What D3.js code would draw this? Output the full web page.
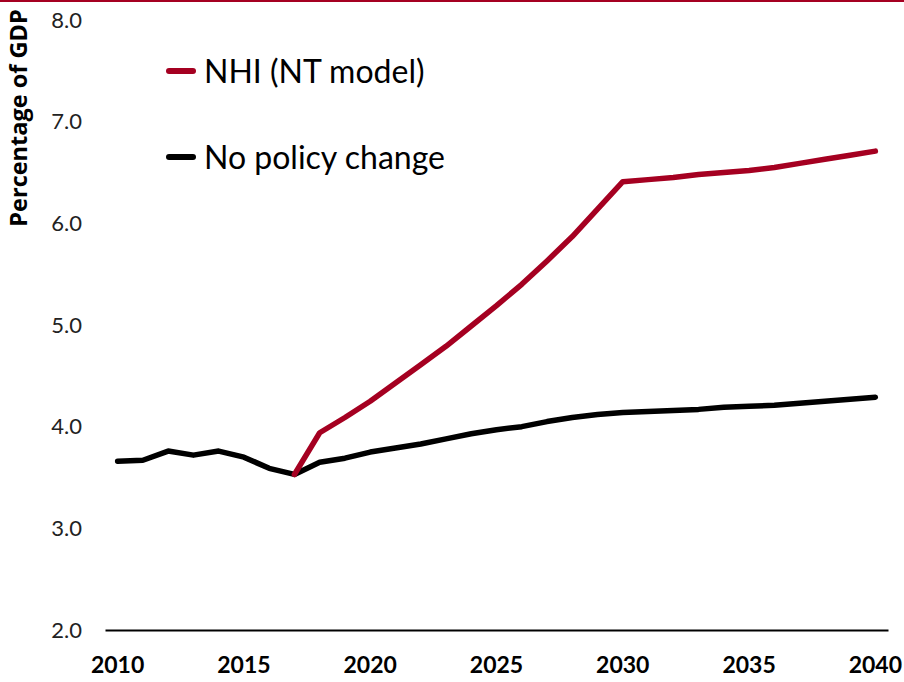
<!DOCTYPE html>
<html lang="en">
  <head>
    <script src="https://cdn.jsdelivr.net/npm/d3@7"></script>
    <style>
      body {
        margin: 0;
        background: #fff;
      }
      svg {
        display: block;
      }
      .tick text {
        font-family: Lato, sans-serif;
      }
    </style>
  </head>
  <body>
    <svg></svg>
  </body>
  <script>

    // Data
    const years = [2010, 2011, 2012, 2013, 2014, 2015, 2016, 2017, 2018, 2019,
                   2020, 2021, 2022, 2023, 2024, 2025, 2026, 2027, 2028, 2029,
                   2030, 2031, 2032, 2033, 2034, 2035, 2036, 2037, 2038, 2039, 2040];
    const noPolicy = [3.66, 3.67, 3.76, 3.72, 3.76, 3.70, 3.59, 3.53, 3.65, 3.69,
                      3.75, 3.79, 3.83, 3.88, 3.93, 3.97, 4.00, 4.05, 4.09, 4.12,
                      4.14, 4.15, 4.16, 4.17, 4.19, 4.20, 4.21, 4.23, 4.25, 4.27, 4.29];
    const nhi = [null, null, null, null, null, null, null, 3.53, 3.94, 4.09,
                 4.25, 4.43, 4.61, 4.79, 4.99, 5.19, 5.40, 5.63, 5.87, 6.14,
                 6.41, 6.43, 6.45, 6.48, 6.50, 6.52, 6.55, 6.59, 6.63, 6.67, 6.71];
    const xTicks = [2010, 2015, 2020, 2025, 2030, 2035, 2040];
    const yTicks = [2, 3, 4, 5, 6, 7, 8];
    const seriesNames = ['NHI (NT model)', 'No policy change'];

    const red = '#a50021';
    const width = 904;
    const height = 682;

    const svg = d3.select('svg')
        .attr('width', width)
        .attr('height', height);

    // red rule along the top edge
    svg.append('line')
        .attr('x1', 0).attr('x2', width)
        .attr('y1', 1).attr('y2', 1)
        .attr('stroke', red)
        .attr('stroke-width', 2);

    const x = d3.scaleBand()
        .domain(years)
        .range([105, 888])
        .padding(0);

    const y = d3.scaleLinear()
        .domain([2, 8])
        .range([630, 20]);

    const cx = d => x(d) + x.bandwidth() / 2;

    // x axis
    const xAxis = svg.append('g')
        .attr('transform', 'translate(0,630)')
        .call(d3.axisBottom(x).tickValues(xTicks).tickSize(0).tickPadding(27).tickSizeOuter(0));
    xAxis.select('.domain')
        .attr('stroke', '#000')
        .attr('stroke-width', 2);
    xAxis.selectAll('text')
        .attr('font-size', 23)
        .attr('font-weight', 700)
        .attr('fill', '#000');

    // y axis
    const yAxis = svg.append('g')
        .attr('transform', 'translate(82,0)')
        .call(d3.axisLeft(y).tickValues(yTicks).tickFormat(d3.format('.1f')).tickSize(0).tickPadding(0));
    yAxis.select('.domain').remove();
    yAxis.selectAll('text')
        .attr('font-size', 22)
        .attr('fill', '#222');

    svg.append('text')
        .attr('transform', 'translate(27,118) rotate(-90)')
        .attr('text-anchor', 'middle')
        .attr('font-family', '"Open Sans", sans-serif')
        .attr('font-weight', 700)
        .attr('font-size', 23.5)
        .text('Percentage of GDP');

    // lines
    const line = d3.line()
        .defined(d => d[1] != null)
        .x(d => cx(d[0]))
        .y(d => y(d[1]));

    svg.append('path')
        .datum(d3.zip(years, noPolicy))
        .attr('fill', 'none')
        .attr('stroke', '#000')
        .attr('stroke-width', 5.5)
        .attr('stroke-linejoin', 'round')
        .attr('stroke-linecap', 'round')
        .attr('d', line);

    svg.append('path')
        .datum(d3.zip(years, nhi))
        .attr('fill', 'none')
        .attr('stroke', red)
        .attr('stroke-width', 5.5)
        .attr('stroke-linejoin', 'round')
        .attr('stroke-linecap', 'round')
        .attr('d', line);

    // legend
    const legend = svg.selectAll('.legend')
        .data(seriesNames)
      .enter().append('g')
        .attr('class', 'legend')
        .attr('transform', (d, i) => 'translate(167,' + (71 + i * 86) + ')');

    legend.append('line')
        .attr('x1', 2).attr('x2', 26)
        .attr('stroke', (d, i) => i === 0 ? red : '#000')
        .attr('stroke-width', 6)
        .attr('stroke-linecap', 'round');

    legend.append('text')
        .attr('x', 37)
        .attr('y', 12)
        .attr('font-family', 'Lato, sans-serif')
        .attr('font-size', 32)
        .attr('fill', '#000')
        .text(d => d);
  </script>
</html>
